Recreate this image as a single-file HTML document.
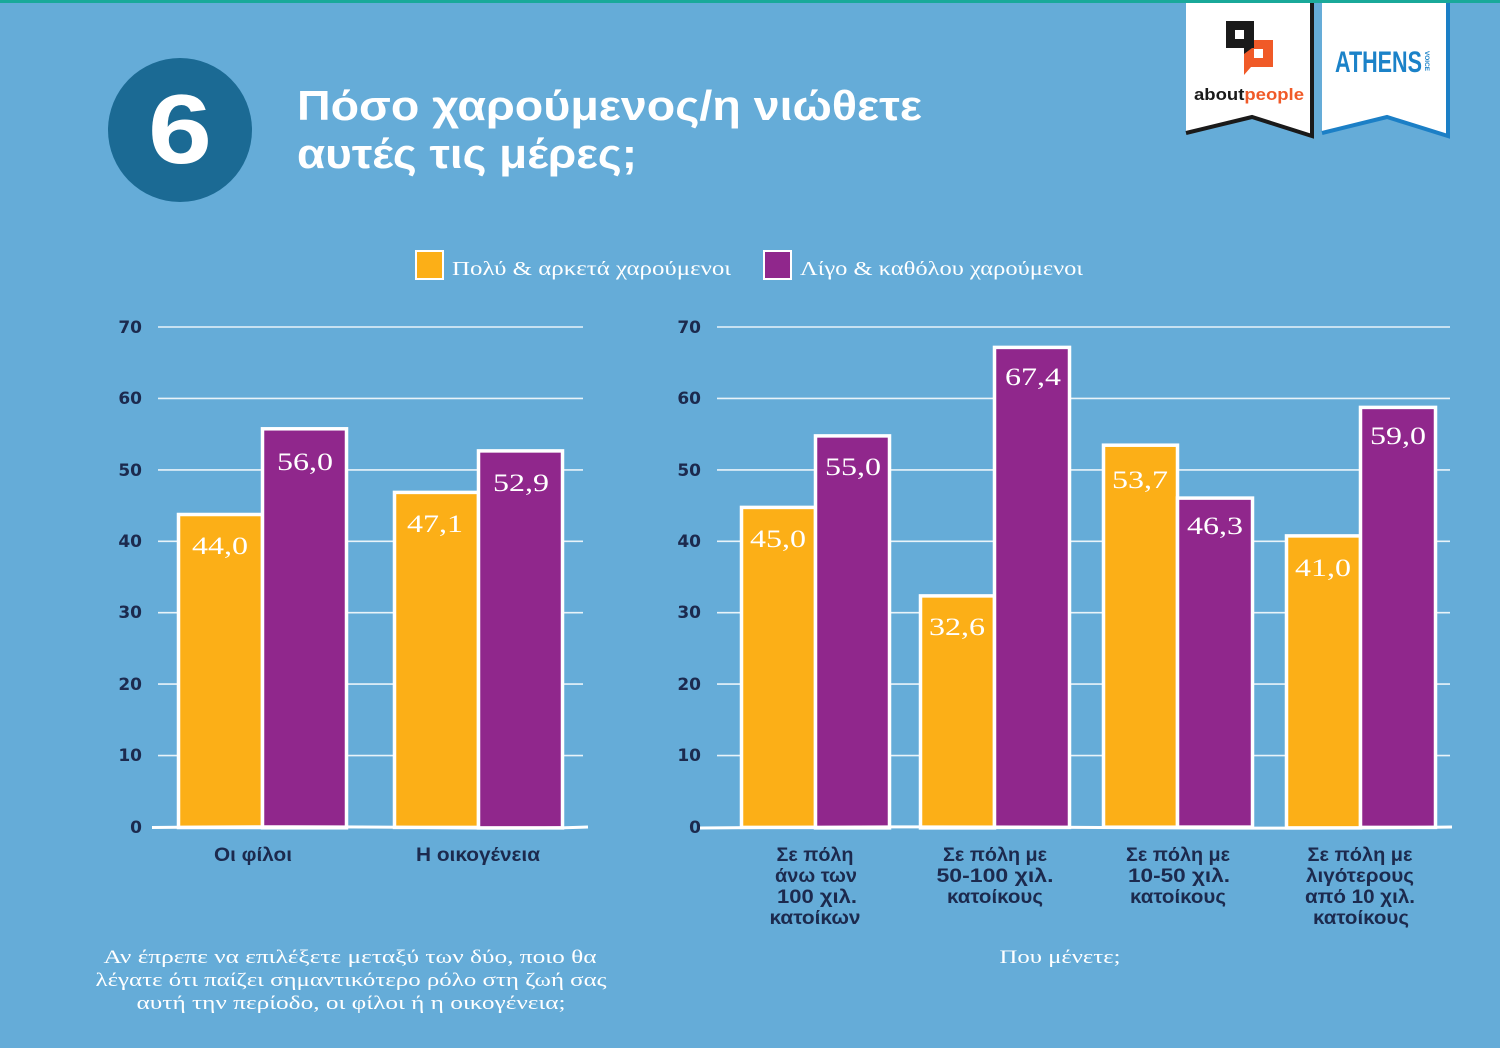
<!DOCTYPE html>
<html><head><meta charset="utf-8">
<style>
html,body{margin:0;padding:0;background:#65acd8;}
svg{display:block;}
</style></head>
<body>
<svg width="1500" height="1048" viewBox="0 0 1500 1048" xmlns="http://www.w3.org/2000/svg">
<rect x="0" y="0" width="1500" height="1048" fill="#65acd8"/>

<!-- circle number -->
<circle cx="180" cy="130" r="72" fill="#1b6a94"/>
<text x="180" y="163" text-anchor="middle" font-family="Liberation Sans, sans-serif" font-weight="bold" font-size="98" fill="#ffffff" textLength="64" lengthAdjust="spacingAndGlyphs">6</text>

<!-- title -->
<g font-family="Liberation Sans, DejaVu Sans, sans-serif" font-weight="bold" fill="#ffffff" font-size="42">
<text x="297" y="120" textLength="625" lengthAdjust="spacingAndGlyphs">Πόσο χαρούμενος/η νιώθετε</text>
<text x="297" y="168" textLength="340" lengthAdjust="spacingAndGlyphs">αυτές τις μέρες;</text>
</g>

<!-- logos -->
<path d="M1186,0 L1312,0 L1312,136 L1252,117 L1186,133 Z" fill="#ffffff"/>
<path d="M1312,0 L1312,136 L1252,117 L1186,133" fill="none" stroke="#1a1a1a" stroke-width="4"/>
<path d="M1244,40 L1273,40 L1273,67 L1251,67 L1244,75 Z" fill="#f05a28"/>
<rect x="1254" y="49" width="9" height="9" fill="#ffffff"/>
<path d="M1226,21 L1254,21 L1254,48 L1252,48 L1244,54 L1244,48 L1226,48 Z" fill="#1a1a1a"/>
<rect x="1235" y="30" width="9" height="9" fill="#ffffff"/>
<text x="1194" y="100" font-family="Liberation Sans, sans-serif" font-weight="bold" font-size="17" textLength="110" lengthAdjust="spacingAndGlyphs"><tspan fill="#1a1a1a">about</tspan><tspan fill="#f05a28">people</tspan></text>

<path d="M1322,0 L1448,0 L1448,136 L1387,117 L1322,133 Z" fill="#ffffff"/>
<path d="M1448,0 L1448,136 L1387,117 L1322,133" fill="none" stroke="#1b7fc6" stroke-width="4"/>
<text x="1335" y="72" font-family="Liberation Sans, sans-serif" font-weight="bold" font-size="30" fill="#1b82c8" textLength="87" lengthAdjust="spacingAndGlyphs">ATHENS</text>
<text transform="translate(1425,51) rotate(90)" font-family="Liberation Sans, sans-serif" font-weight="bold" font-size="6" fill="#1b82c8" textLength="20" lengthAdjust="spacingAndGlyphs">VOICE</text>

<rect x="0" y="0" width="1500" height="3" fill="#19a99a"/>

<!-- legend -->
<rect x="416" y="251" width="27" height="28" fill="#fcaf17" stroke="#ffffff" stroke-width="2"/>
<text x="452" y="275" font-family="Liberation Serif, DejaVu Serif, serif" font-size="20" fill="#ffffff" textLength="279" lengthAdjust="spacingAndGlyphs">Πολύ &amp; αρκετά χαρούμενοι</text>
<rect x="764" y="251" width="27" height="28" fill="#90278c" stroke="#ffffff" stroke-width="2"/>
<text x="800" y="275" font-family="Liberation Serif, DejaVu Serif, serif" font-size="20" fill="#ffffff" textLength="283" lengthAdjust="spacingAndGlyphs">Λίγο &amp; καθόλου χαρούμενοι</text>

<!-- gridlines -->
<g stroke="#ffffff" stroke-width="1.6" stroke-opacity="0.85">
<line x1="158" y1="327" x2="583" y2="327"/>
<line x1="158" y1="398.4" x2="583" y2="398.4"/>
<line x1="158" y1="469.9" x2="583" y2="469.9"/>
<line x1="158" y1="541.3" x2="583" y2="541.3"/>
<line x1="158" y1="612.7" x2="583" y2="612.7"/>
<line x1="158" y1="684.1" x2="583" y2="684.1"/>
<line x1="158" y1="755.6" x2="583" y2="755.6"/>
<line x1="717" y1="327" x2="1450" y2="327"/>
<line x1="717" y1="398.4" x2="1450" y2="398.4"/>
<line x1="717" y1="469.9" x2="1450" y2="469.9"/>
<line x1="717" y1="541.3" x2="1450" y2="541.3"/>
<line x1="717" y1="612.7" x2="1450" y2="612.7"/>
<line x1="717" y1="684.1" x2="1450" y2="684.1"/>
<line x1="717" y1="755.6" x2="1450" y2="755.6"/>
</g>

<!-- y tick labels -->
<g font-family="DejaVu Sans, Liberation Sans, sans-serif" font-weight="bold" font-size="17" fill="#1c2a4e" text-anchor="end">
<text x="142" y="333">70</text>
<text x="142" y="404">60</text>
<text x="142" y="476">50</text>
<text x="142" y="547">40</text>
<text x="142" y="618">30</text>
<text x="142" y="690">20</text>
<text x="142" y="761">10</text>
<text x="142" y="833">0</text>
<text x="701" y="333">70</text>
<text x="701" y="404">60</text>
<text x="701" y="476">50</text>
<text x="701" y="547">40</text>
<text x="701" y="618">30</text>
<text x="701" y="690">20</text>
<text x="701" y="761">10</text>
<text x="701" y="833">0</text>
</g>

<!-- bars -->
<g stroke="#ffffff" stroke-width="3.5">
<rect x="178.5" y="514.5" width="84" height="313" fill="#fcaf17"/>
<rect x="262.5" y="428.8" width="84" height="399" fill="#90278c"/>
<rect x="394.5" y="492.4" width="84" height="335" fill="#fcaf17"/>
<rect x="478.5" y="450.9" width="84" height="377" fill="#90278c"/>

<rect x="741.5" y="507.4" width="74" height="320" fill="#fcaf17"/>
<rect x="815.5" y="435.9" width="74" height="392" fill="#90278c"/>
<rect x="920.5" y="595.9" width="74" height="232" fill="#fcaf17"/>
<rect x="994.5" y="347.4" width="75" height="480" fill="#90278c"/>
<rect x="1103.5" y="445.2" width="74" height="382" fill="#fcaf17"/>
<rect x="1177.5" y="498.1" width="75" height="329" fill="#90278c"/>
<rect x="1286.5" y="535.9" width="74" height="292" fill="#fcaf17"/>
<rect x="1360.5" y="407.4" width="75" height="420" fill="#90278c"/>
</g>

<!-- baselines -->
<path d="M152,827.5 Q300,826 420,827.5 T588,827" stroke="#ffffff" stroke-width="3" fill="none"/>
<path d="M700,828 Q900,826 1100,827.5 T1452,827" stroke="#ffffff" stroke-width="3" fill="none"/>

<!-- value labels -->
<g font-family="Liberation Serif, DejaVu Serif, serif" font-size="25" fill="#ffffff" text-anchor="middle">
<text x="220" y="554" textLength="56" lengthAdjust="spacingAndGlyphs">44,0</text>
<text x="305" y="470" textLength="56" lengthAdjust="spacingAndGlyphs">56,0</text>
<text x="435" y="532" textLength="56" lengthAdjust="spacingAndGlyphs">47,1</text>
<text x="521" y="491" textLength="56" lengthAdjust="spacingAndGlyphs">52,9</text>

<text x="778" y="547" textLength="56" lengthAdjust="spacingAndGlyphs">45,0</text>
<text x="853" y="475" textLength="56" lengthAdjust="spacingAndGlyphs">55,0</text>
<text x="957" y="635" textLength="56" lengthAdjust="spacingAndGlyphs">32,6</text>
<text x="1033" y="385" textLength="56" lengthAdjust="spacingAndGlyphs">67,4</text>
<text x="1140" y="488" textLength="56" lengthAdjust="spacingAndGlyphs">53,7</text>
<text x="1215" y="534" textLength="56" lengthAdjust="spacingAndGlyphs">46,3</text>
<text x="1323" y="576" textLength="56" lengthAdjust="spacingAndGlyphs">41,0</text>
<text x="1398" y="444" textLength="56" lengthAdjust="spacingAndGlyphs">59,0</text>
</g>

<!-- category labels -->
<g font-family="Liberation Sans, DejaVu Sans, sans-serif" font-weight="bold" font-size="19" fill="#1c2a4e" text-anchor="middle">
<text x="253" y="861" textLength="78" lengthAdjust="spacingAndGlyphs">Οι φίλοι</text>
<text x="478" y="861" textLength="124" lengthAdjust="spacingAndGlyphs">Η οικογένεια</text>

<text x="815" y="861" textLength="77" lengthAdjust="spacingAndGlyphs">Σε πόλη</text>
<text x="816" y="882" textLength="82" lengthAdjust="spacingAndGlyphs">άνω των</text>
<text x="817" y="903" textLength="80" lengthAdjust="spacingAndGlyphs">100 χιλ.</text>
<text x="815" y="924" textLength="91" lengthAdjust="spacingAndGlyphs">κατοίκων</text>

<text x="995" y="861" textLength="104" lengthAdjust="spacingAndGlyphs">Σε πόλη με</text>
<text x="995" y="882" textLength="117" lengthAdjust="spacingAndGlyphs">50-100 χιλ.</text>
<text x="995" y="903" textLength="96" lengthAdjust="spacingAndGlyphs">κατοίκους</text>

<text x="1178" y="861" textLength="104" lengthAdjust="spacingAndGlyphs">Σε πόλη με</text>
<text x="1179" y="882" textLength="102" lengthAdjust="spacingAndGlyphs">10-50 χιλ.</text>
<text x="1178" y="903" textLength="96" lengthAdjust="spacingAndGlyphs">κατοίκους</text>

<text x="1360" y="861" textLength="105" lengthAdjust="spacingAndGlyphs">Σε πόλη με</text>
<text x="1360" y="882" textLength="108" lengthAdjust="spacingAndGlyphs">λιγότερους</text>
<text x="1360" y="903" textLength="110" lengthAdjust="spacingAndGlyphs">από 10 χιλ.</text>
<text x="1361" y="924" textLength="96" lengthAdjust="spacingAndGlyphs">κατοίκους</text>
</g>

<!-- bottom questions -->
<g font-family="Liberation Serif, DejaVu Serif, serif" font-size="19" fill="#ffffff" text-anchor="middle">
<text x="350" y="963" textLength="493" lengthAdjust="spacingAndGlyphs">Αν έπρεπε να επιλέξετε μεταξύ των δύο, ποιο θα</text>
<text x="351" y="986" textLength="511" lengthAdjust="spacingAndGlyphs">λέγατε ότι παίζει σημαντικότερο ρόλο στη ζωή σας</text>
<text x="351" y="1009" textLength="429" lengthAdjust="spacingAndGlyphs">αυτή την περίοδο, οι φίλοι ή η οικογένεια;</text>
<text x="1060" y="963" textLength="121" lengthAdjust="spacingAndGlyphs">Που μένετε;</text>
</g>
</svg>
</body></html>
